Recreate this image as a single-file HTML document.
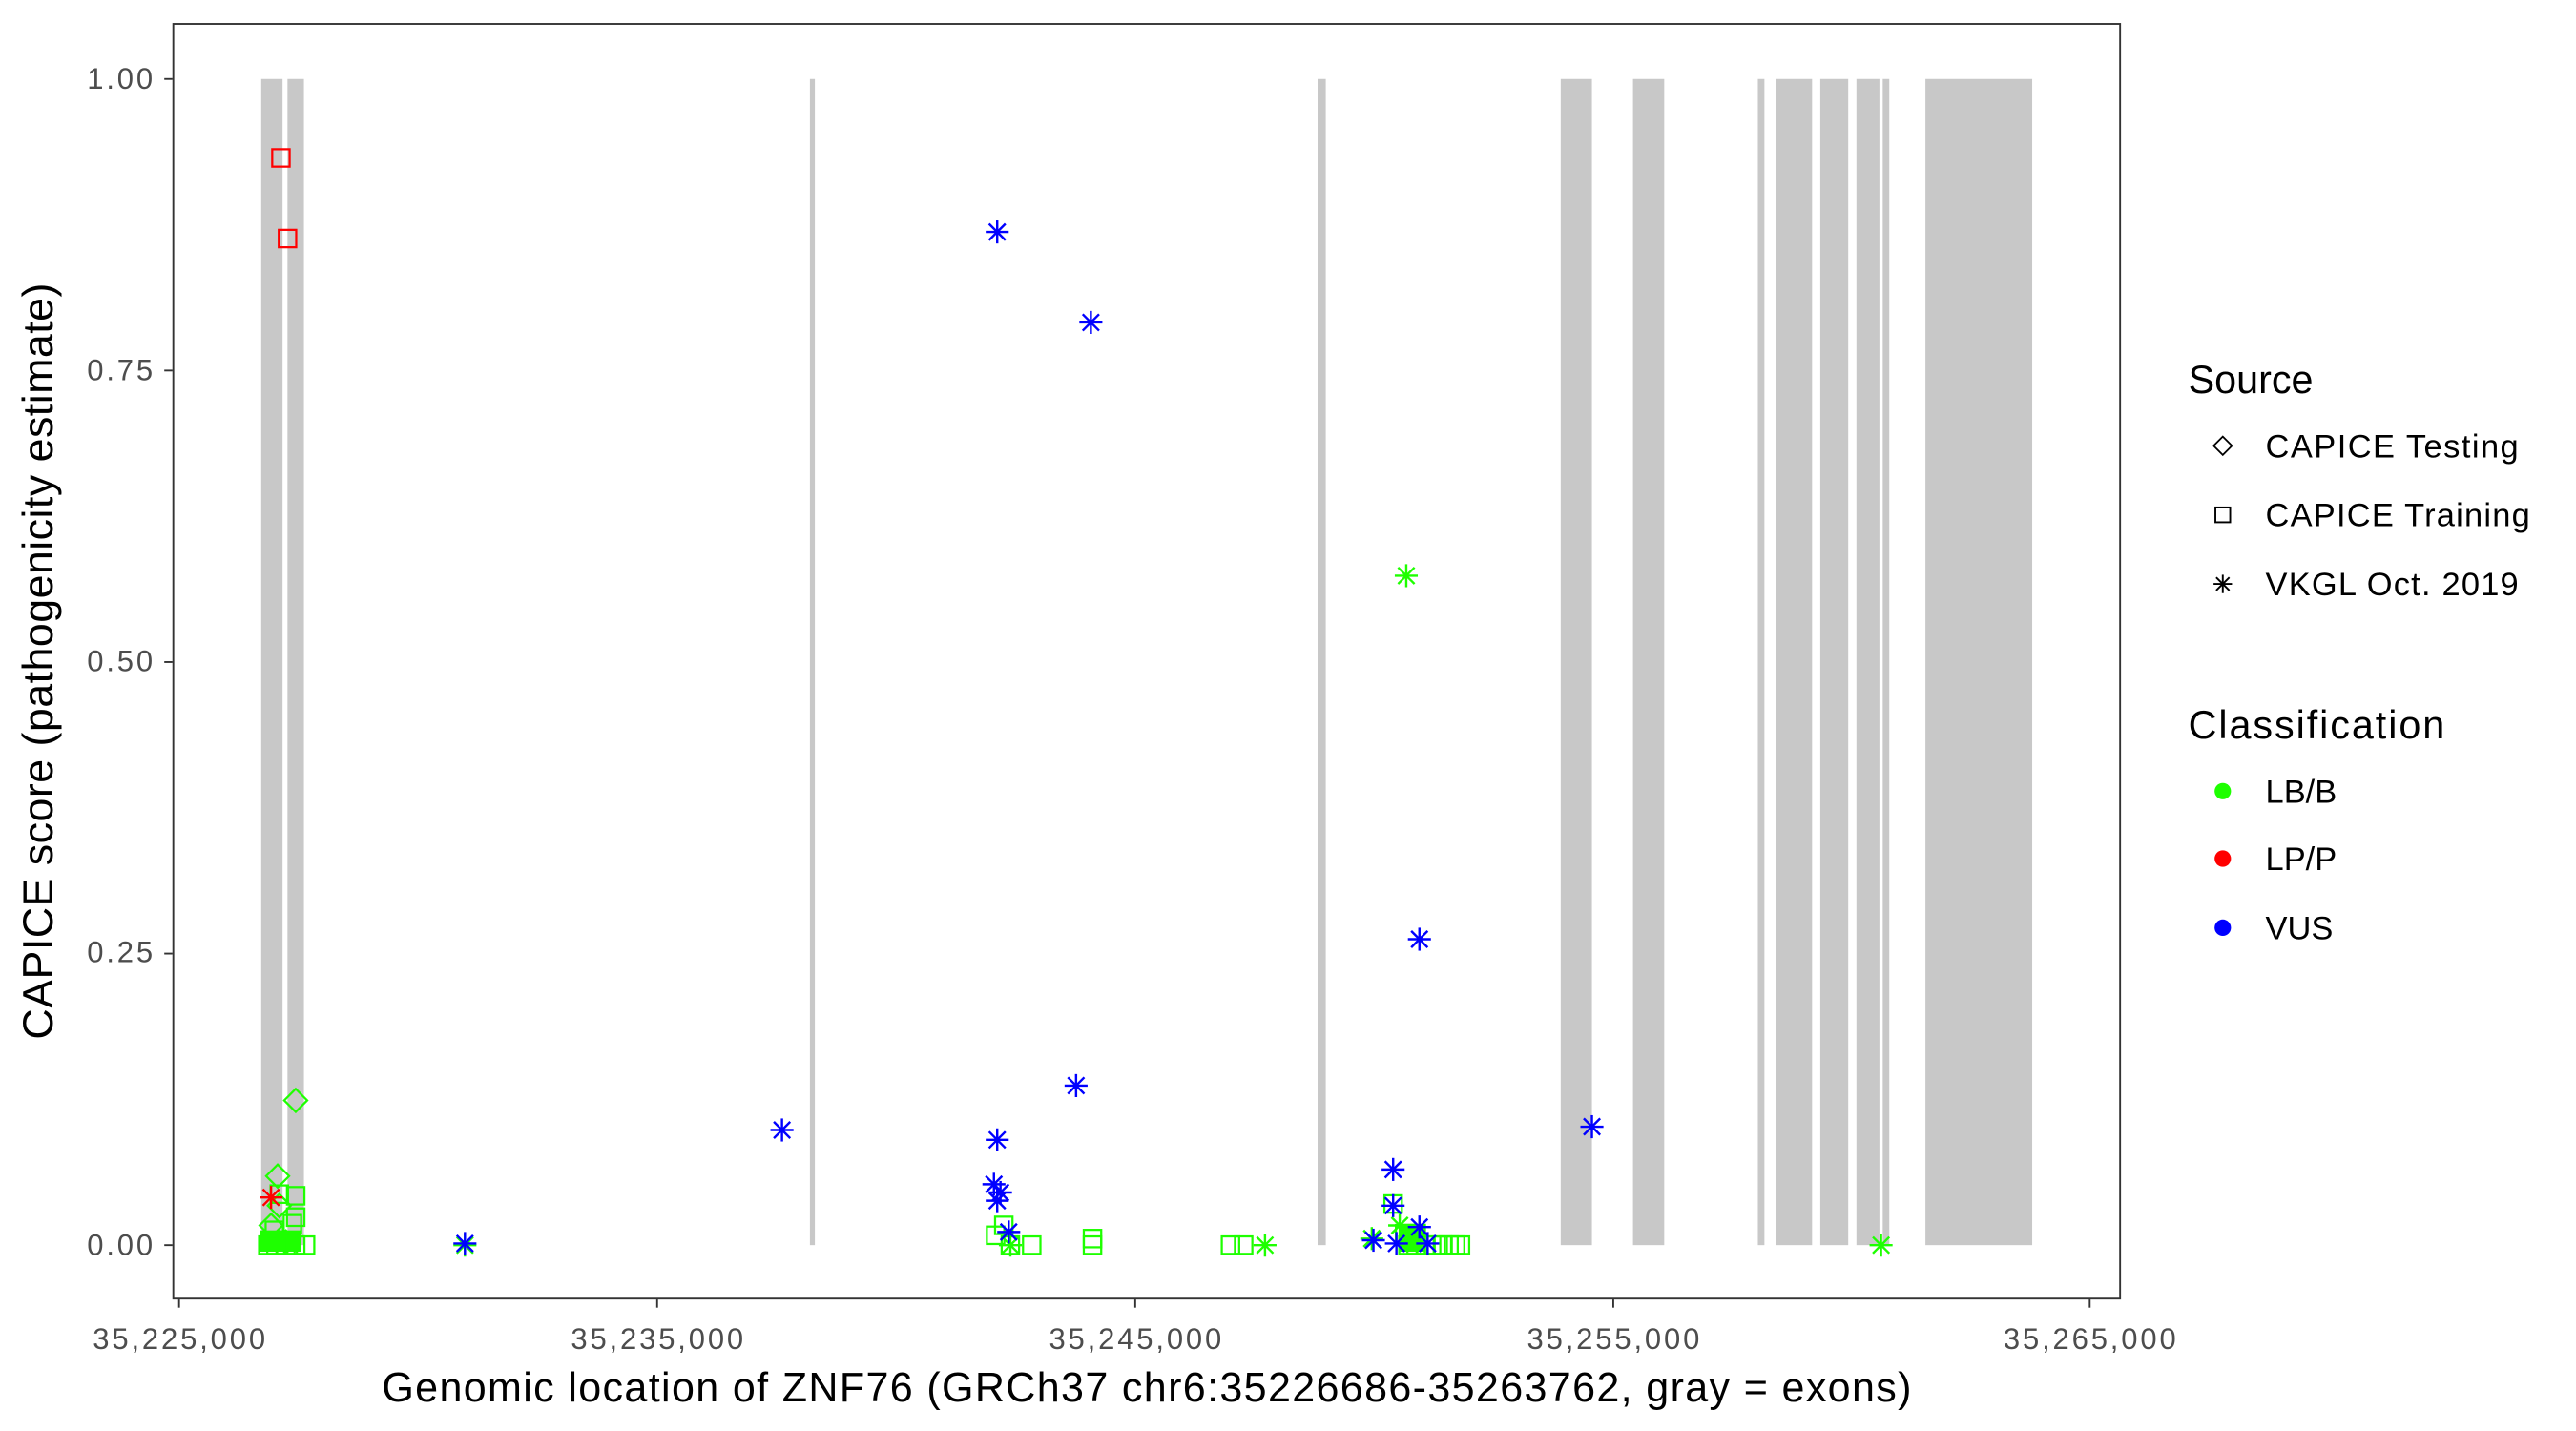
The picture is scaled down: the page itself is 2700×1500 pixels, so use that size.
<!DOCTYPE html>
<html><head><meta charset="utf-8"><style>
html,body{margin:0;padding:0;background:#fff;}
svg{display:block;}
text{font-family:"Liberation Sans",Arial,sans-serif;}
</style></head><body>
<svg width="2700" height="1500" viewBox="0 0 1568 870" preserveAspectRatio="none" xmlns="http://www.w3.org/2000/svg">
<defs>
<rect id="sq" x="-5.3" y="-5.3" width="10.6" height="10.6" fill="none" stroke-width="1.3"/>
<polygon id="di" points="0,-7 7,0 0,7 -7,0" fill="none" stroke-width="1.3"/>
<g id="st" stroke-width="1.4"><line x1="0" y1="-7" x2="0" y2="7"/><line x1="-7" y1="0" x2="7" y2="0"/><line x1="-5" y1="-5" x2="5" y2="5"/><line x1="-5" y1="5" x2="5" y2="-5"/></g>
</defs>
<rect width="1568" height="870" fill="#fff"/>
<g fill="#c8c8c8">
<rect x="159" y="48" width="13" height="709"/><rect x="175" y="48" width="10" height="709"/>
<rect x="493" y="48" width="3" height="709"/>
<rect x="802" y="48" width="5" height="709"/>
<rect x="950" y="48" width="19" height="709"/>
<rect x="994" y="48" width="19" height="709"/>
<rect x="1070" y="48" width="4" height="709"/>
<rect x="1081" y="48" width="22" height="709"/>
<rect x="1108" y="48" width="17" height="709"/>
<rect x="1130" y="48" width="14" height="709"/>
<rect x="1146" y="48" width="4" height="709"/>
<rect x="1172" y="48" width="65" height="709"/>
</g>
<g stroke="#1eff00" fill="#1eff00">
<rect x="158" y="748" width="25" height="13" stroke="none"/>
<use href="#sq" x="163" y="757"/><use href="#sq" x="168" y="757"/><use href="#sq" x="174" y="757"/><use href="#sq" x="180" y="757"/><use href="#sq" x="186" y="757"/>
<use href="#sq" x="180" y="727"/><use href="#sq" x="180" y="740"/><use href="#sq" x="178" y="744"/><use href="#sq" x="170" y="726"/><use href="#sq" x="167" y="748"/>
<use href="#di" x="180" y="669"/><use href="#di" x="169" y="715"/><use href="#di" x="165" y="745"/><use href="#di" x="170" y="733"/><use href="#di" x="174" y="755"/>
<use href="#sq" x="606" y="751"/><use href="#sq" x="611" y="745"/><use href="#sq" x="628" y="757"/><use href="#sq" x="615" y="757"/>
<use href="#sq" x="665" y="753"/><use href="#sq" x="665" y="757"/><use href="#sq" x="749" y="757"/><use href="#sq" x="757" y="757"/>
<use href="#sq" x="848" y="732"/><use href="#sq" x="855" y="750"/><use href="#sq" x="857" y="757"/><use href="#sq" x="862" y="757"/><use href="#sq" x="868" y="757"/>
<use href="#sq" x="874" y="757"/><use href="#sq" x="878" y="757"/><use href="#sq" x="882" y="757"/><use href="#sq" x="886" y="757"/><use href="#sq" x="889" y="757"/>
<rect x="852" y="744" width="16" height="17" stroke="none"/>
<use href="#st" x="856" y="350"/><use href="#st" x="1145" y="757"/><use href="#st" x="770" y="757"/><use href="#st" x="615" y="757"/><use href="#st" x="852" y="745"/><use href="#st" x="835" y="753"/><use href="#st" x="283" y="757"/>
</g>
<g stroke="#ff0000">
<use href="#sq" x="171" y="96"/><use href="#sq" x="175" y="145"/><use href="#st" x="165" y="728"/>
</g>
<g stroke="#0000ff">
<use href="#st" x="607" y="141"/><use href="#st" x="664" y="196"/><use href="#st" x="864" y="571"/><use href="#st" x="655" y="660"/><use href="#st" x="476" y="687"/>
<use href="#st" x="607" y="693"/><use href="#st" x="969" y="685"/><use href="#st" x="605" y="720"/><use href="#st" x="609" y="725"/><use href="#st" x="607" y="730"/>
<use href="#st" x="848" y="711"/><use href="#st" x="848" y="733"/><use href="#st" x="614" y="749"/><use href="#st" x="836" y="754"/><use href="#st" x="850" y="756"/>
<use href="#st" x="864" y="746"/><use href="#st" x="869" y="756"/><use href="#st" x="283" y="756"/>
</g>
<rect x="105.5" y="14.5" width="1185" height="775" fill="none" stroke="#333" stroke-width="1.1"/>
<g stroke="#333" stroke-width="1.1">
<line x1="100" y1="48" x2="105" y2="48"/><line x1="100" y1="225.25" x2="105" y2="225.25"/><line x1="100" y1="402.5" x2="105" y2="402.5"/><line x1="100" y1="579.75" x2="105" y2="579.75"/><line x1="100" y1="757" x2="105" y2="757"/>
<line x1="109" y1="790" x2="109" y2="795"/><line x1="400" y1="790" x2="400" y2="795"/><line x1="691" y1="790" x2="691" y2="795"/><line x1="982" y1="790" x2="982" y2="795"/><line x1="1272" y1="790" x2="1272" y2="795"/>
</g>
<g font-size="18" fill="#4d4d4d" text-anchor="end">
<text x="93" y="54" textLength="40">1.00</text><text x="93" y="231" textLength="40">0.75</text><text x="93" y="408" textLength="40">0.50</text><text x="93" y="585" textLength="40">0.25</text><text x="93" y="763" textLength="40">0.00</text>
</g>
<g font-size="18" fill="#4d4d4d" text-anchor="middle">
<text x="109" y="820" textLength="105">35,225,000</text><text x="400" y="820" textLength="105">35,235,000</text><text x="691" y="820" textLength="105">35,245,000</text><text x="982" y="820" textLength="105">35,255,000</text><text x="1272" y="820" textLength="105">35,265,000</text>
</g>
<text x="698" y="852" font-size="25" text-anchor="middle" fill="#000" textLength="931">Genomic location of ZNF76 (GRCh37 chr6:35226686-35263762, gray = exons)</text>
<text transform="translate(32,402) rotate(-90)" font-size="26" text-anchor="middle" fill="#000" textLength="460">CAPICE score (pathogenicity estimate)</text>
<text x="1332" y="239" font-size="24">Source</text>
<g stroke="#000"><use href="#di" x="1353" y="271" transform="translate(1353,271) scale(0.8) translate(-1353,-271)"/><use href="#sq" x="1353" y="313" transform="translate(1353,313) scale(0.85) translate(-1353,-313)"/><use href="#st" x="1353" y="355" transform="translate(1353,355) scale(0.8) translate(-1353,-355)"/></g>
<g font-size="20"><text x="1379" y="278" textLength="154">CAPICE Testing</text><text x="1379" y="320" textLength="161">CAPICE Training</text><text x="1379" y="362" textLength="154">VKGL Oct. 2019</text></g>
<text x="1332" y="449" font-size="24" textLength="156">Classification</text>
<circle cx="1353" cy="481" r="5" fill="#1eff00"/><circle cx="1353" cy="522" r="5" fill="#ff0000"/><circle cx="1353" cy="564" r="5" fill="#0000ff"/>
<g font-size="20"><text x="1379" y="488">LB/B</text><text x="1379" y="529">LP/P</text><text x="1379" y="571">VUS</text></g>
</svg>
</body></html>
